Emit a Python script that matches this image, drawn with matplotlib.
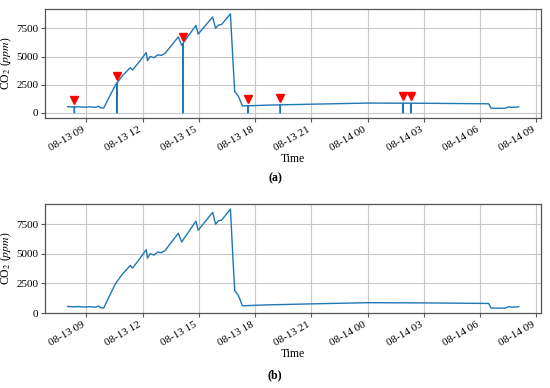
import numpy as np
import pandas as pd
import matplotlib
matplotlib.use("Agg")
import matplotlib.pyplot as plt
import matplotlib.dates as mdates

plt.rcParams['font.family'] = ['Liberation Serif', 'DejaVu Serif']
plt.rcParams['mathtext.fontset'] = 'stix'
plt.rcParams['font.size'] = 8

# CO2 readings: hours after 08-13 00:00 and ppm
hours = [8.00, 8.3, 8.6, 8.9, 9.2, 9.5, 9.65, 9.74, 9.92, 10.54, 10.9, 11.34, 11.46,
         11.8, 12.19, 12.26, 12.40, 12.6, 12.8, 13.0, 13.2, 13.90, 14.08, 14.84,
         14.96, 15.73, 15.89, 16.03, 16.21, 16.68, 16.82, 16.91, 17.09, 17.18,
         17.32, 18.77, 21.0, 24.03, 27.06, 30.03, 30.45, 30.58, 31.0, 31.35,
         31.52, 31.7, 32.05]
co2 = [560, 530, 550, 510, 540, 500, 600, 470, 430, 2460, 3250, 4020, 3800,
       4500, 5350, 4640, 5010, 4900, 5150, 5100, 5290, 6740, 6000, 7760,
       6990, 8500, 7500, 7780, 7840, 8780, 4440, 1900, 1530, 1190,
       620, 700, 780, 880, 860, 820, 815, 425, 420, 430,
       540, 500, 540]

# anomalies injected into (a): drop to zero at these times
anomaly_hours = [8.36, 10.63, 14.14, 17.62, 19.34, 25.89, 26.30]
marker_offset = 620

base = pd.Timestamp("2021-08-13")
t = np.array(hours)
v = np.array(co2, dtype=float)

# series with anomalies (spikes to 0)
eps = 0.005
ah = np.array(anomaly_hours)
ta = np.concatenate([t, ah - eps, ah, ah + eps])
va = np.concatenate([v, np.interp(ah - eps, t, v), np.zeros(len(ah)), np.interp(ah + eps, t, v)])
order = np.argsort(ta, kind="stable")
ta, va = ta[order], va[order]

to_dt = lambda h: base + pd.to_timedelta(h, unit="h")

fig = plt.figure(figsize=(5.5, 3.88), dpi=100)
ax1 = fig.add_axes([0.082, 0.696, 0.902, 0.281])
ax2 = fig.add_axes([0.082, 0.193, 0.902, 0.281])

line_c = '#1f77b4'
ax1.plot(to_dt(ta), va, color=line_c, lw=1.0)
mk = np.interp(ah, t, v) + marker_offset
ax1.plot(to_dt(ah), mk, 'v', color='red', ms=6, ls='none')
ax2.plot(to_dt(t), v, color=line_c, lw=1.0)

for ax in (ax1, ax2):
    ax.set_yticks([0, 2500, 5000, 7500])
    ax.xaxis.set_major_locator(mdates.HourLocator(byhour=range(0, 24, 3)))
    ax.xaxis.set_major_formatter(mdates.DateFormatter('%m-%d %H'))
    ax.grid(True, color='#c8c8c8', lw=0.8)
    ax.set_axisbelow(True)
    for s in ax.spines.values():
        s.set_color('#555555')
        s.set_linewidth(0.9)
    ax.tick_params(length=3, width=0.8, color='#555555', pad=2)
    ax.set_ylabel('CO$_2$ ($ppm$)', fontsize=8.5)
    ax.yaxis.set_label_coords(-0.062, 0.5)
    ax.set_xlabel('Time', labelpad=0, fontsize=8.5)
    for lab in ax.get_xticklabels():
        lab.set_rotation(30)
        lab.set_ha('right')

fig.text(0.5, 1 - 178 / 388, '(a)', ha='center', va='center', fontweight='bold', fontsize=8.5)
fig.text(0.5, 1 - 375 / 388, '(b)', ha='center', va='center', fontweight='bold', fontsize=8.5)

fig.savefig('out.png', dpi=100)
